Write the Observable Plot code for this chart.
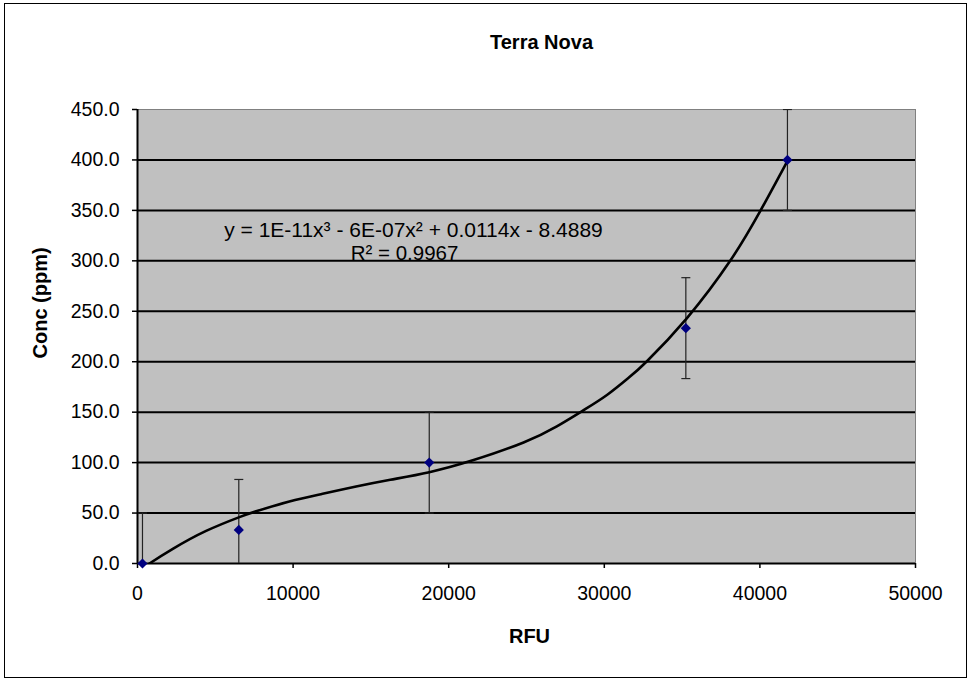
<!DOCTYPE html>
<html>
<head>
<meta charset="utf-8">
<script src="https://cdn.jsdelivr.net/npm/d3@7"></script>
<script src="https://cdn.jsdelivr.net/npm/@observablehq/plot@0.6"></script>
<style>
  body { margin: 0; background: #fff; }
  #wrap { position: relative; width: 971px; height: 680px; overflow: hidden; }
  #wrap svg { display: block; }
  #border { position: absolute; left: 4px; top: 3px; width: 961px; height: 673px; border: 1px solid #000; pointer-events: none; }
</style>
</head>
<body>
<div id="wrap"><div id="border"></div></div>
<script>
// ---- data ----
const rfu = [320, 6510, 18750, 35240, 41770];
const conc = [0, 33.3, 100, 233.3, 400];
const errSize = [50, 50, 50, 50, 50];

// polynomial trendline
const trendX = [320, 770, 2270, 4410, 6550, 7620, 9760, 11900, 14050, 16250, 18750, 21600, 24810, 26950, 28670, 30170, 31560, 32740, 35300, 38090, 40010, 41770];
const trendY = [-5, 0, 14.5, 32.3, 46, 51.7, 61.5, 69.1, 76.3, 83, 90.5, 102.5, 120, 136, 152, 167, 184, 200.5, 243, 300, 349, 399];

const yTicks = [0, 50, 100, 150, 200, 250, 300, 350, 400, 450];
const xTicks = [0, 10000, 20000, 30000, 40000, 50000];
const gridLines = [50, 100, 150, 200, 250, 300, 350, 400];

const titleText = "Terra Nova";
const xLabel = "RFU";
const yLabel = "Conc (ppm)";
const eqLine1 = "y = 1E-11x³ - 6E-07x² + 0.0114x - 8.4889";
const eqLine2 = "R² = 0.9967";

// ---- tables built from the arrays ----
const points = rfu.map((x, i) => ({x, y: conc[i], lo: conc[i] - errSize[i], hi: conc[i] + errSize[i]}));
const caps = points.flatMap(d => [{x: d.x, y: d.lo}, {x: d.x, y: d.hi}]);
const trend = trendX.map((x, i) => ({x, y: trendY[i]}));

const capSymbol = { draw(ctx) { ctx.moveTo(-4.5, 0); ctx.lineTo(4.5, 0); } };

const chart = Plot.plot({
  width: 971,
  height: 680,
  marginLeft: 137,
  marginRight: 56,
  marginTop: 109,
  marginBottom: 117,
  style: { fontFamily: "'Liberation Sans', Arial, sans-serif", fontSize: "19.5px", background: "transparent", color: "#000" },
  x: { domain: [0, 50000] },
  y: { domain: [0, 450] },
  marks: [
    Plot.frame({ fill: "#c0c0c0", stroke: "#808080" }),
    Plot.ruleY(gridLines, { stroke: "#000", strokeWidth: 2 }),
    Plot.ruleY([0], { stroke: "#000", strokeWidth: 2 }),
    Plot.ruleX([0], { stroke: "#000", strokeWidth: 2 }),
    Plot.axisY({ ticks: yTicks, tickFormat: d3.format(".1f"), tickSize: 5, tickPadding: 13, label: null, strokeWidth: 1.5 }),
    Plot.axisX({ ticks: xTicks, tickFormat: d3.format("d"), tickSize: 5, tickPadding: 18, label: null, strokeWidth: 1.5 }),
    Plot.ruleX(points, { x: "x", y1: "lo", y2: "hi", stroke: "#222", strokeWidth: 1.2, clip: true }),
    Plot.dot(caps, { x: "x", y: "y", symbol: capSymbol, stroke: "#222", strokeWidth: 1.2, fill: "none", clip: true }),
    Plot.line(trend, { x: "x", y: "y", curve: "natural", stroke: "#000", strokeWidth: 2.6, clip: true }),
    Plot.dot(points, { x: "x", y: "y", symbol: "diamond2", r: 4.6, fill: "#000080", stroke: "none" }),
    Plot.text([eqLine1], { text: d => d, frameAnchor: "top-left", dx: 276, dy: 121, textAnchor: "middle", lineAnchor: "middle", fontSize: 21 }),
    Plot.text([eqLine2], { text: d => d, frameAnchor: "top-left", dx: 267, dy: 144, textAnchor: "middle", lineAnchor: "middle", fontSize: 20.5 }),
    Plot.text([titleText], { text: d => d, frameAnchor: "top", dx: 15, dy: -67, lineAnchor: "middle", fontWeight: "bold", fontSize: 20 }),
    Plot.text([xLabel], { text: d => d, frameAnchor: "bottom", dx: 3, dy: 73, lineAnchor: "middle", fontWeight: "bold", fontSize: 20 }),
    Plot.text([yLabel], { text: d => d, frameAnchor: "left", dx: -97, dy: 22, rotate: -90, lineAnchor: "middle", fontWeight: "bold", fontSize: 20 })
  ]
});
document.getElementById("wrap").prepend(chart);
</script>
</body>
</html>
